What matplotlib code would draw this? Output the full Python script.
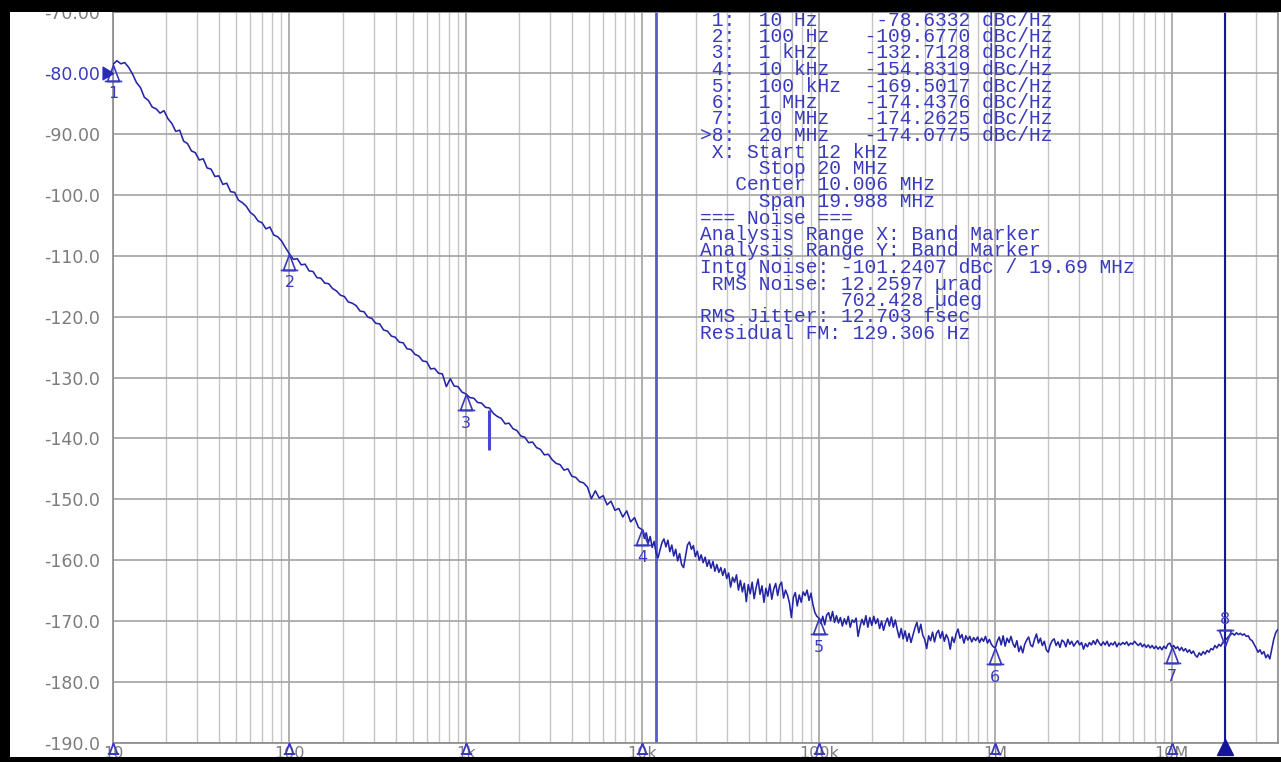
import numpy as np
import matplotlib
matplotlib.use("Agg")
import matplotlib.pyplot as plt
from matplotlib.path import Path
from matplotlib.patches import Rectangle
from matplotlib.ticker import LogLocator, NullFormatter, FixedLocator
from matplotlib.transforms import ScaledTranslation

# ---------------- data ----------------
# phase-noise trace, levels in dBc/Hz, one list per frequency decade
level_10Hz_to_100Hz = [
    -78.6, -78.0, -78.5, -78.3, -79.1, -80.2, -81.6, -82.4, -84.0, -84.5,
    -85.6, -85.9, -86.6, -86.2, -87.5, -88.3, -89.6, -89.4, -91.2, -91.6,
    -92.8, -93.1, -94.3, -94.1, -95.6, -95.8, -97.0, -96.9, -98.3, -98.1,
    -99.5, -99.6, -100.9, -101.3, -101.9, -102.9, -103.4, -104.3, -104.6, -105.6,
    -105.3, -106.6, -106.9, -107.6, -108.7]
level_100Hz_to_1kHz = [
    -109.7, -110.6, -110.5, -111.5, -111.4, -112.5, -112.6, -113.6, -113.7, -114.5,
    -114.6, -115.4, -115.8, -116.5, -116.7, -117.6, -117.8, -118.2, -119.1, -119.2,
    -120.1, -120.3, -121.1, -121.2, -122.2, -122.4, -123.2, -123.4, -124.2, -124.3,
    -125.3, -125.4, -126.2, -126.5, -127.3, -127.4, -128.6, -128.5, -129.3, -129.4,
    -131.5, -130.2, -131.4, -131.5, -132.4]
level_1kHz_to_10kHz = [
    -132.7, -133.3, -133.4, -134.1, -134.2, -134.9, -135.0, -135.9, -136.4, -136.7,
    -137.6, -137.5, -138.4, -138.7, -139.6, -139.8, -140.7, -140.6, -141.5, -141.8,
    -142.7, -142.6, -143.5, -144.1, -144.3, -145.2, -145.0, -146.2, -146.4, -147.1,
    -147.3, -148.0, -149.9, -148.6, -149.8, -149.4, -150.9, -150.3, -151.8, -151.5,
    -152.9, -151.9, -153.7, -153.0, -154.6]
level_10kHz_to_100kHz = [
    -155.0, -156.4, -155.5, -157.2, -156.1, -157.9, -156.9, -158.8, -159.6, -158.3,
    -157.1, -156.5, -157.8, -156.7, -158.6, -157.5, -159.3, -158.2, -160.1, -158.9,
    -160.7, -161.2, -159.4, -157.5, -157.0, -158.2, -157.6, -159.4, -158.5, -160.0,
    -159.1, -160.4, -159.5, -161.0, -160.0, -161.3, -160.2, -161.8, -160.7, -162.0,
    -161.2, -162.5, -161.4, -163.0, -162.1, -164.4, -162.8, -163.6, -162.4, -164.9,
    -163.3, -165.2, -163.8, -166.8, -164.0, -165.5, -163.6, -166.3, -164.5, -163.1,
    -165.6, -164.2, -166.9, -164.6, -165.9, -163.9, -166.4, -164.7, -163.8, -165.8,
    -164.1, -163.6, -166.2, -164.9, -165.7, -167.0, -169.4, -166.1, -165.3, -167.5,
    -165.7, -166.9, -165.2, -165.8, -164.9, -166.6, -165.4, -167.3, -168.6, -169.2]
level_100kHz_to_1MHz = [
    -169.5, -170.4, -169.2, -170.6, -169.0, -168.6, -169.9, -168.4, -170.2, -169.1,
    -170.3, -169.4, -170.8, -169.6, -170.5, -169.2, -171.0, -169.8, -170.2, -169.5,
    -172.5, -170.9, -169.7, -170.6, -169.1, -171.0, -169.4, -170.7, -169.2, -170.4,
    -169.6, -171.2, -170.0, -171.5, -170.3, -169.5, -170.8, -169.3, -171.0, -169.8,
    -171.4, -172.7, -171.2, -172.9, -171.6, -173.3, -172.0, -173.5, -172.3, -171.1,
    -170.2, -171.9, -170.5, -172.3, -173.0, -174.5, -172.4, -173.2, -171.8, -173.4,
    -172.0, -171.5, -172.8, -171.7, -173.3, -172.2, -172.9, -174.6, -172.6, -173.5,
    -172.1, -171.3, -172.8, -172.2, -173.6, -172.4, -173.1, -172.5, -173.4, -172.7,
    -173.2, -172.6, -173.5, -172.8, -173.3, -172.5, -173.6, -173.0, -173.8, -174.2]
level_1MHz_to_10MHz = [
    -174.4, -173.3, -172.6, -173.9, -172.4, -174.1, -172.8, -173.5, -172.5, -173.7,
    -174.3, -173.2, -175.0, -174.1, -175.2, -173.8, -173.1, -172.6, -173.9, -174.2,
    -173.0, -172.1, -173.6, -172.8, -174.0, -173.3, -174.7, -175.1, -173.9, -173.2,
    -172.9, -174.0, -173.4, -174.3, -173.1, -173.4, -174.2, -173.0, -173.8, -173.3,
    -174.1, -173.6, -173.2, -173.9, -173.5, -174.6, -173.7, -174.2, -173.5, -173.9,
    -173.2, -173.8, -173.0, -173.6, -174.0, -173.4, -173.9, -173.3, -174.1, -173.6,
    -173.9, -173.4, -174.2, -173.6, -173.9, -173.5, -173.8, -173.4, -174.0, -173.6,
    -173.8, -173.3, -173.7, -174.0, -173.6, -174.2, -173.8, -174.3, -173.9, -174.4,
    -174.0, -174.5, -174.1, -174.6, -174.2, -174.7, -174.1, -174.5, -173.8, -173.6]
level_10MHz_to_40MHz = [
    -174.3, -174.0, -174.5, -174.2, -174.8, -174.3, -174.9, -174.5, -175.1, -174.7,
    -175.3, -174.9, -175.6, -175.9, -175.2, -175.6, -175.0, -175.4, -174.8, -175.1,
    -174.5, -174.7, -174.0, -174.4, -173.8, -174.1, -173.5, -173.2, -172.9, -172.5,
    -172.2, -172.0, -172.3, -171.9, -172.2, -172.0, -172.3, -172.1, -172.5, -172.4,
    -173.0, -173.2, -173.8, -174.4, -175.1, -174.7, -175.4, -175.0, -176.0, -175.5,
    -176.2, -174.6, -173.0, -171.9, -171.4]
points_per_decade_last = 90

# markers
marker_ids = ["1", "2", "3", "4", "5", "6", "7", "8"]
marker_freq_hz = [10, 100, 1e3, 1e4, 1e5, 1e6, 1e7, 2e7]
marker_freq_text = ["10 Hz", "100 Hz", "1 kHz", "10 kHz", "100 kHz", "1 MHz", "10 MHz", "20 MHz"]
marker_level = [-78.6332, -109.6770, -132.7128, -154.8319, -169.5017, -174.4376, -174.2625, -174.0775]
active_marker = "8"

# spur, band, reference level
spur_freq_hz = 1350
spur_top, spur_bottom = -135.3, -141.9
band_start_hz, band_stop_hz = 12e3, 20e6
ref_level = -80

# axes ranges / ticks
x_min_hz, x_max_hz = 10, 40e6
y_min, y_max = -190, -70
y_ticks = list(range(-190, -69, 10))
x_ticks = [10, 100, 1e3, 1e4, 1e5, 1e6, 1e7]
x_tick_labels = ["10", "100", "1k", "10k", "100k", "1M", "10M"]

info_lines = [
    " X: Start 12 kHz",
    "     Stop 20 MHz",
    "   Center 10.006 MHz",
    "     Span 19.988 MHz",
    "=== Noise ===",
    "Analysis Range X: Band Marker",
    "Analysis Range Y: Band Marker",
    "Intg Noise: -101.2407 dBc / 19.69 MHz",
    " RMS Noise: 12.2597 \u00b5rad",
    "            702.428 \u00b5deg",
    "RMS Jitter: 12.703 fsec",
    "Residual FM: 129.306 Hz",
]

# ---------------- build trace ----------------
segments = [
    (1, level_10Hz_to_100Hz), (2, level_100Hz_to_1kHz), (3, level_1kHz_to_10kHz),
    (4, level_10kHz_to_100kHz), (5, level_100kHz_to_1MHz), (6, level_1MHz_to_10MHz)]
freqs, levels = [], []
for dec, lv in segments:
    freqs.append(np.logspace(dec, dec + 1, len(lv), endpoint=False))
    levels.append(np.asarray(lv))
n_last = len(level_10MHz_to_40MHz)
freqs.append(10 ** (7 + np.arange(n_last) / points_per_decade_last))
levels.append(np.asarray(level_10MHz_to_40MHz))
freq_hz = np.concatenate(freqs)
level = np.concatenate(levels)

# ---------------- style ----------------
W, H = 1281, 762
BLUE_TRACE = "#2424a6"
BLUE_TXT = "#3a3abf"
GRAY_TXT = "#7c7c7c"

fig = plt.figure(figsize=(W / 100, H / 100), dpi=100, facecolor="white")
ax = fig.add_axes([113 / W, 19 / H, 1165 / W, 731 / H])
ax.set_xscale("log")
ax.set_xlim(x_min_hz, x_max_hz)
ax.set_ylim(y_min, y_max)

ax.xaxis.set_major_locator(FixedLocator(x_ticks))
ax.xaxis.set_minor_locator(LogLocator(base=10, subs=range(2, 10), numticks=50))
ax.xaxis.set_minor_formatter(NullFormatter())
ax.set_xticks(x_ticks)
ax.set_xticklabels(x_tick_labels)
ax.set_yticks(y_ticks)
ax.set_yticklabels([f"{v:.2f}" if abs(v) < 100 else f"{v:.1f}" for v in y_ticks])

ax.grid(True, which="major", color="#a9a9a9", lw=1.3)
ax.grid(True, which="minor", axis="x", color="#c6c6c6", lw=1.0)
ax.set_axisbelow(True)
ax.tick_params(axis="both", which="both", length=0)
ax.tick_params(axis="y", pad=9.5, labelsize=12.5, labelcolor=GRAY_TXT)
ax.tick_params(axis="x", pad=2, labelsize=11.5, labelcolor=GRAY_TXT)
for lab in ax.get_yticklabels():
    lab.set_fontfamily("DejaVu Sans")
    if lab.get_text() == f"{ref_level:.2f}":
        lab.set_color(BLUE_TXT)
for s in ax.spines.values():
    s.set_color("#8a8a8a")
    s.set_linewidth(1.2)

# trace
ax.plot(freq_hz, level, color=BLUE_TRACE, lw=1.15, zorder=3)
ax.vlines(spur_freq_hz, spur_bottom, spur_top, color="#4848c8", lw=2.2, zorder=3)

# band marker lines
ax.axvline(band_start_hz, color="#5858d0", lw=2.0, zorder=2.5)
ax.axvline(band_stop_hz, color="#15159a", lw=1.5, zorder=2.5)

# marker symbols
tri_down_body = Path([(0, 0), (-0.38, -1), (0.38, -1), (0, 0), (-0.55, -1), (0.55, -1)],
                     [Path.MOVETO, Path.LINETO, Path.LINETO, Path.LINETO, Path.MOVETO, Path.LINETO])
tri_up_body = Path([(0, 0), (-0.38, 1), (0.38, 1), (0, 0), (-0.55, 1), (0.55, 1)],
                   [Path.MOVETO, Path.LINETO, Path.LINETO, Path.LINETO, Path.MOVETO, Path.LINETO])
for mid, f, v in zip(marker_ids, marker_freq_hz, marker_level):
    if mid == active_marker:
        ax.plot([f], [v], marker=tri_up_body, ms=23, mfc="none", mec=BLUE_TXT, mew=1.2,
                ls="none", zorder=4, clip_on=False)
        ax.annotate(mid, (f, v), xytext=(0, 27), textcoords="offset pixels",
                    ha="center", va="center", color=BLUE_TXT, fontsize=11.5)
    else:
        ax.plot([f], [v], marker=tri_down_body, ms=23, mfc="none", mec=BLUE_TXT, mew=1.2,
                ls="none", zorder=4, clip_on=False)
        ax.annotate(mid, (f, v), xytext=(0, -29), textcoords="offset pixels",
                    ha="center", va="center", color=BLUE_TXT, fontsize=11.5)

# markers on the x axis
xtr = ax.get_xaxis_transform()
normal = [f for m, f in zip(marker_ids, marker_freq_hz) if m != active_marker]
ax.plot(normal, [0] * len(normal), transform=xtr, marker=tri_down_body, ms=15, mfc="none",
        mec=BLUE_TXT, mew=1.3, ls="none", clip_on=False, zorder=5)
ax.plot([band_stop_hz], [0], transform=xtr + ScaledTranslation(0, -0.04, fig.dpi_scale_trans),
        marker="^", ms=11, mfc="#15159a", mec="#15159a", ls="none", clip_on=False, zorder=5)

# reference level pointer
ref_tri = Path([(0, 0), (-1, 0.6), (-1, -0.6), (0, 0)],
               [Path.MOVETO, Path.LINETO, Path.LINETO, Path.CLOSEPOLY])
ax.plot([x_min_hz], [ref_level], marker=ref_tri, ms=15, mfc="#2a2ab8", mec="#2a2ab8",
        ls="none", clip_on=False, zorder=5)

# marker table + analysis text
mono = ["Liberation Mono", "DejaVu Sans Mono"]
table = []
for mid, ft, v in zip(marker_ids, marker_freq_text, marker_level):
    lab = (">" if mid == active_marker else " ") + mid + ":"
    table.append(f"{lab}  {ft:<9}{v:>9.4f} dBc/Hz")
all_lines = table + info_lines
for i, line in enumerate(all_lines):
    fig.text(700 / W, 1 - (20 + 16.5 * i) / H, line, family=mono, fontsize=14.1,
             color=BLUE_TXT, va="center", ha="left")

# black frame of the screenshot
for (x0, y0, w, h) in [(0, 0, 10, H), (0, H - 12, W, 12), (0, 0, W, 5)]:
    fig.add_artist(Rectangle((x0 / W, y0 / H), w / W, h / H, transform=fig.transFigure,
                             facecolor="black", edgecolor="none", zorder=100))

fig.savefig("out.png", dpi=100, facecolor="white")
